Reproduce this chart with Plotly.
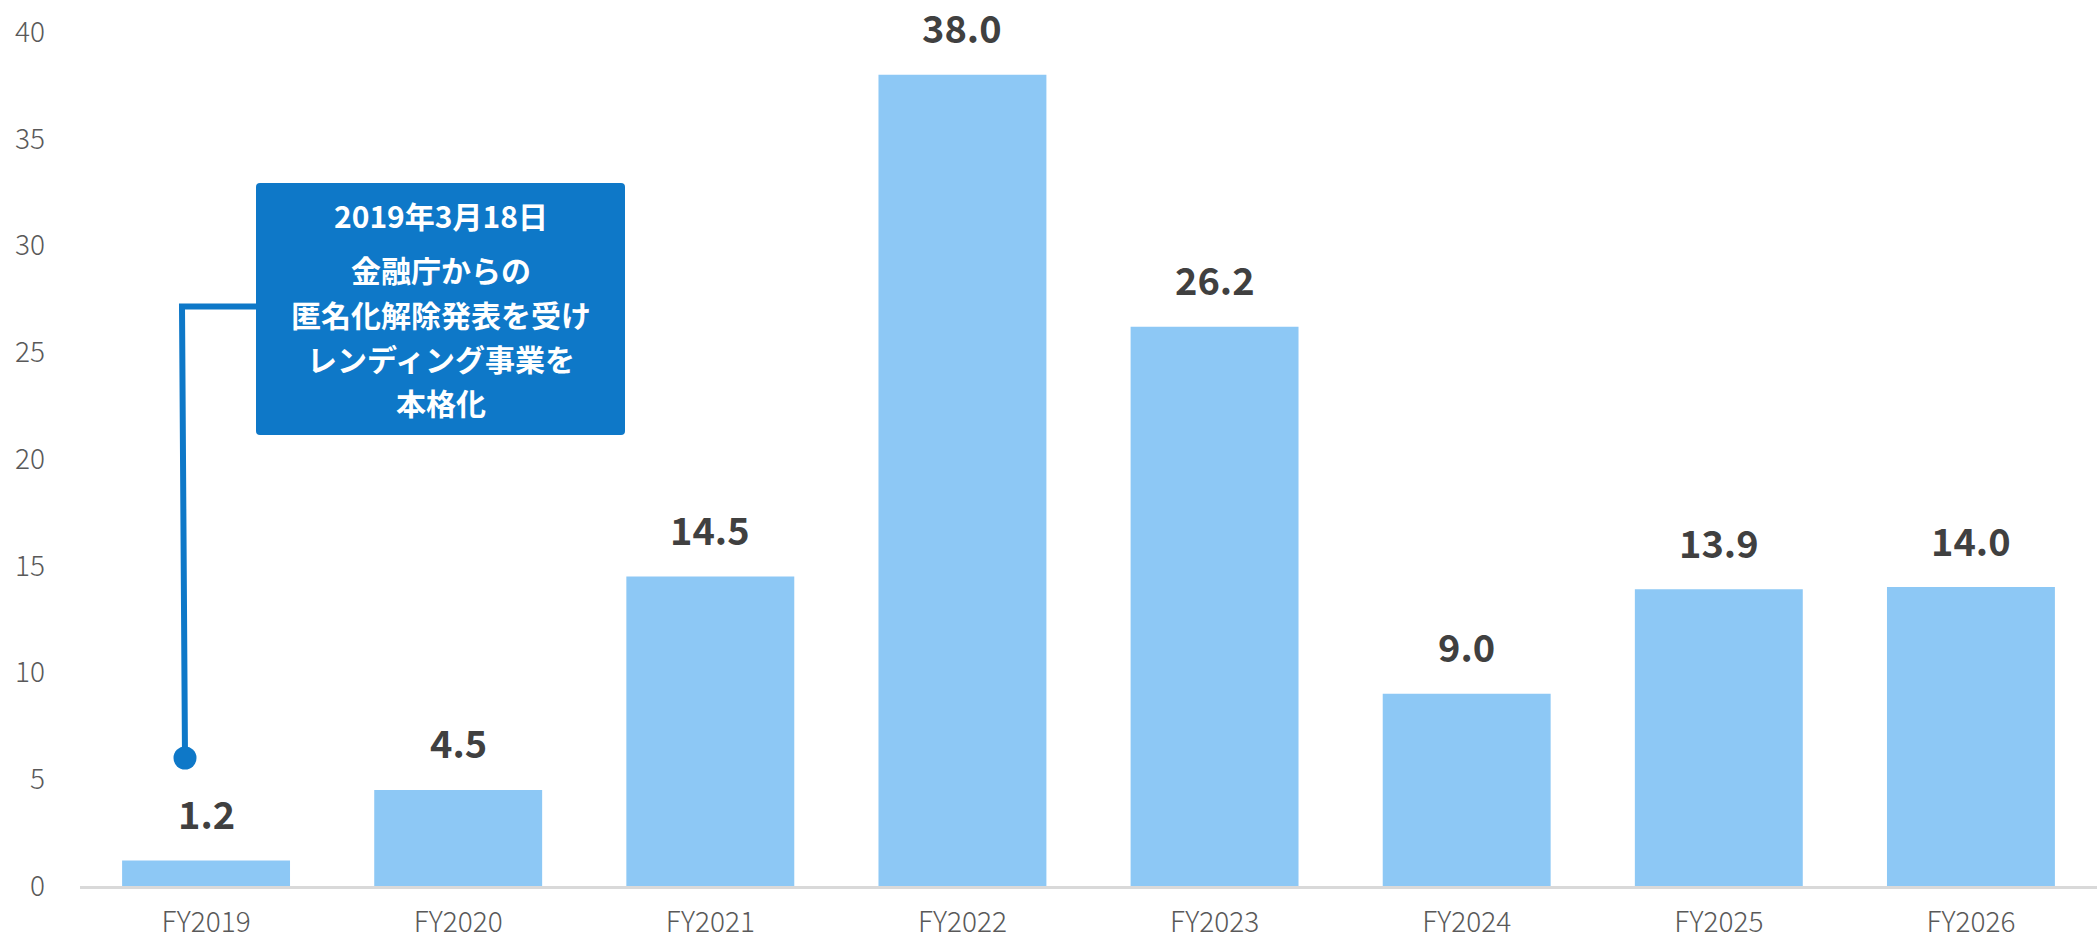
import plotly.graph_objects as go

# Annual figures by fiscal year
fiscal_years = ["FY2019", "FY2020", "FY2021", "FY2022", "FY2023", "FY2024", "FY2025", "FY2026"]
amounts = [1.2, 4.5, 14.5, 38.0, 26.2, 9.0, 13.9, 14.0]
y_ticks = [0, 5, 10, 15, 20, 25, 30, 35, 40]

# Callout text
callout_date = "2019年3月18日"
callout_lines = ["金融庁からの", "匿名化解除発表を受け", "レンディング事業を", "本格化"]

W, H = 2097, 940
M_L, M_R, M_T, M_B = 80, 0, 32, 54
PLOT_W = W - M_L - M_R
PLOT_H = H - M_T - M_B

BAR_COLOR = "#8DC8F5"
CALLOUT_BLUE = "#0E78C8"
LABEL_COLOR = "#404040"
TICK_COLOR = "#595959"
FONT_JP = "Noto Sans CJK JP"


def px_x(px):
    """Page pixel x -> paper fraction."""
    return (px - M_L) / PLOT_W


def px_y(py):
    """Page pixel y -> paper fraction."""
    return (H - M_B - py) / PLOT_H


fig = go.Figure()
fig.add_trace(
    go.Bar(
        x=fiscal_years,
        y=amounts,
        marker=dict(color=BAR_COLOR, line=dict(width=0)),
        hoverinfo="x+y",
    )
)

annotations = []
# Value labels above each bar
for fy, v in zip(fiscal_years, amounts):
    annotations.append(
        dict(
            x=fy, y=v, xref="x", yref="y",
            text=f"{v:.1f}",
            showarrow=False,
            yanchor="middle",
            yshift=48,
            font=dict(family=FONT_JP, size=38, color=LABEL_COLOR, weight="bold"),
        )
    )

# Callout box geometry (page pixels)
box_l, box_r, box_t, box_b = 256, 625, 183, 435
r = 4
bx0, bx1 = px_x(box_l), px_x(box_r)
by0, by1 = px_y(box_b), px_y(box_t)
rx = r / PLOT_W
ry = r / PLOT_H
box_path = (
    f"M {bx0 + rx} {by1} L {bx1 - rx} {by1} Q {bx1} {by1} {bx1} {by1 - ry} "
    f"L {bx1} {by0 + ry} Q {bx1} {by0} {bx1 - rx} {by0} "
    f"L {bx0 + rx} {by0} Q {bx0} {by0} {bx0} {by0 + ry} "
    f"L {bx0} {by1 - ry} Q {bx0} {by1} {bx0 + rx} {by1} Z"
)

# Leader line: from box edge, left, then down to the dot
lead_y = 306.5
lead_path = (
    f"M {px_x(box_l)} {px_y(lead_y)} L {px_x(182)} {px_y(lead_y)} "
    f"L {px_x(185)} {px_y(758)}"
)
dot_cx, dot_cy, dot_r = 185, 758, 11.5

shapes = [
    dict(type="path", xref="paper", yref="paper", path=lead_path,
         line=dict(color=CALLOUT_BLUE, width=6), layer="above"),
    dict(type="circle", xref="paper", yref="paper",
         x0=px_x(dot_cx - dot_r), x1=px_x(dot_cx + dot_r),
         y0=px_y(dot_cy + dot_r), y1=px_y(dot_cy - dot_r),
         fillcolor=CALLOUT_BLUE, line=dict(width=0), layer="above"),
    dict(type="path", xref="paper", yref="paper", path=box_path,
         fillcolor=CALLOUT_BLUE, line=dict(width=0), layer="above"),
]

box_cx = px_x((box_l + box_r) / 2)
text_rows = [(callout_date, 215)] + list(zip(callout_lines, [269, 314, 358, 402]))
for txt, cy in text_rows:
    annotations.append(
        dict(
            x=box_cx, y=px_y(cy), xref="paper", yref="paper",
            text=txt, showarrow=False,
            xanchor="center", yanchor="middle",
            font=dict(family=FONT_JP, size=30, color="white", weight="bold"),
        )
    )

fig.update_layout(
    width=W,
    height=H,
    margin=dict(l=M_L, r=M_R, t=M_T, b=M_B, pad=0, autoexpand=False),
    paper_bgcolor="white",
    plot_bgcolor="white",
    bargap=0.334,
    showlegend=False,
    annotations=annotations,
    shapes=shapes,
    xaxis=dict(
        type="category",
        range=[-0.5, len(fiscal_years) - 0.5],
        automargin=False,
        showgrid=False,
        zeroline=False,
        showline=True,
        linecolor="#D9D9D9",
        linewidth=3,
        ticks="",
        ticklabelstandoff=9,
        tickfont=dict(family=FONT_JP, size=28, color=TICK_COLOR, weight=300),
        fixedrange=True,
    ),
    yaxis=dict(
        range=[0, 40],
        tickvals=y_ticks,
        automargin=False,
        showgrid=False,
        zeroline=False,
        showline=False,
        ticks="",
        ticklabelstandoff=34,
        tickfont=dict(family=FONT_JP, size=28, color=TICK_COLOR, weight=300),
        fixedrange=True,
    ),
)

fig.write_html("out.html", config={"displayModeBar": False})
